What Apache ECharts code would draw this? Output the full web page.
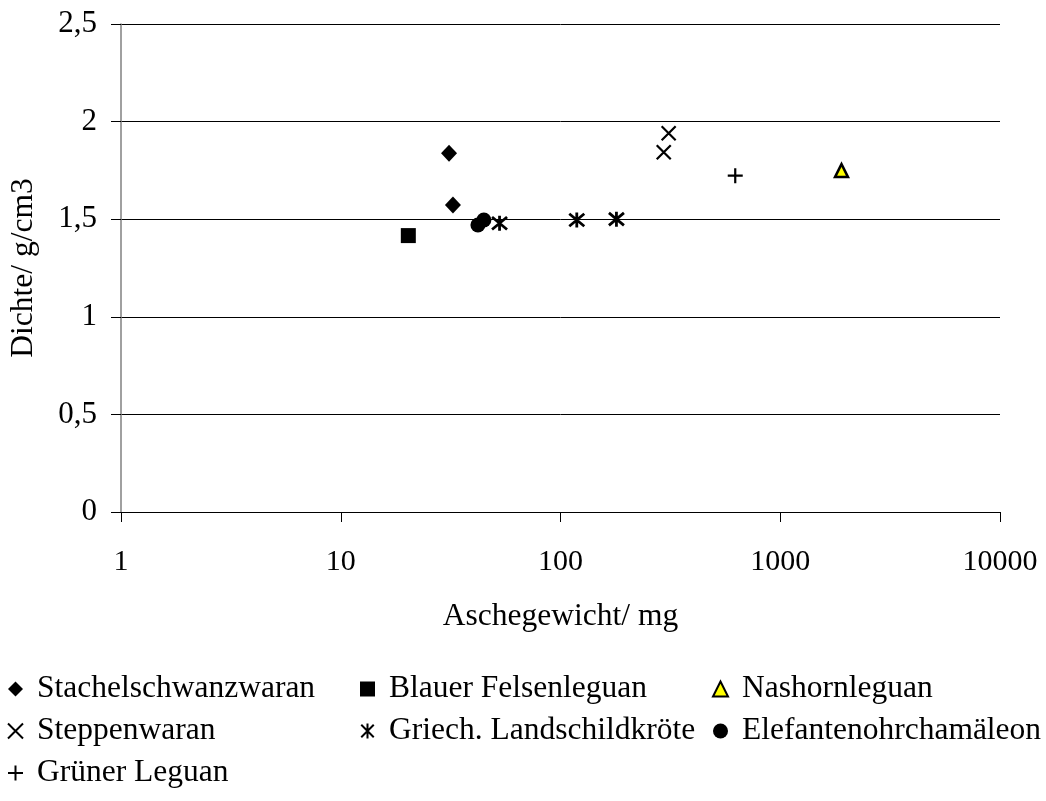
<!DOCTYPE html>
<html>
<head>
<meta charset="utf-8">
<script src="https://cdn.jsdelivr.net/npm/echarts@6/dist/echarts.min.js"></script>
<style>
  html, body { margin: 0; padding: 0; background: #fff; }
  #chart { width: 1046px; height: 801px; }
</style>
</head>
<body>
<div id="chart"></div>
<script>
// Species and their measurements: [ash weight in mg, density in g/cm3]
const speciesNames = [
  'Stachelschwanzwaran', 'Blauer Felsenleguan', 'Nashornleguan',
  'Steppenwaran', 'Griech. Landschildkröte', 'Elefantenohrchamäleon',
  'Grüner Leguan'
];
const stachelschwanzwaran = [[31.1, 1.838], [32.4, 1.573]];
const blauerFelsenleguan = [[20.3, 1.416]];
const nashornleguan = [[1900, 1.749]];
const steppenwaran = [[310.6, 1.940], [295, 1.843]];
const griechLandschildkroete = [[52.8, 1.479], [118.6, 1.496], [179.7, 1.500]];
const elefantenohrchamaeleon = [[42.1, 1.470], [44.8, 1.496]];
const gruenerLeguan = [[624, 1.723]];

const xTicks = [1, 10, 100, 1000, 10000];
const yTicks = [0, 0.5, 1, 1.5, 2, 2.5];

const FONT = '"Liberation Serif", "DejaVu Serif", serif';

// Stroked marker outlines
const crossPath = 'path://M0,0L10,10M10,0L0,10';
const plusPath = 'path://M5,0L5,10M0,5L10,5';
const starPath = 'path://M0,0L10,10M10,0L0,10M5,-1L5,11';

function strokeSeries(name, data, symbol, size, width) {
  return {
    name, type: 'scatter', data, symbol, symbolSize: size,
    itemStyle: { color: 'rgba(0,0,0,0)', borderColor: '#000', borderWidth: width, opacity: 1 }
  };
}

function solidSeries(name, data, symbol, size) {
  return {
    name, type: 'scatter', data, symbol, symbolSize: size,
    itemStyle: { color: '#000', opacity: 1 }
  };
}

const series = [
  solidSeries(speciesNames[0], stachelschwanzwaran, 'diamond', [16, 17]),
  solidSeries(speciesNames[1], blauerFelsenleguan, 'rect', 15),
  { name: speciesNames[2], type: 'scatter', data: nashornleguan, symbol: 'triangle', symbolSize: 13,
    itemStyle: { color: '#ffff00', borderColor: '#000', borderWidth: 2.5, opacity: 1 } },
  strokeSeries(speciesNames[3], steppenwaran, crossPath, 14, 2.2),
  strokeSeries(speciesNames[4], griechLandschildkroete, starPath, [15, 15], 2.8),
  solidSeries(speciesNames[5], elefantenohrchamaeleon, 'circle', 15),
  strokeSeries(speciesNames[6], gruenerLeguan, plusPath, 15, 2.2)
];

const legendText = { fontFamily: FONT, fontSize: 31.5, lineHeight: 32, color: '#000', padding: [0, 0, 0, 9] };
function legendCol(names, left) {
  return {
    data: names, left, top: 673, orient: 'vertical', itemGap: 10,
    itemWidth: 15, itemHeight: 15, textStyle: legendText, padding: 0, selectedMode: false
  };
}

const option = {
  animation: false,
  backgroundColor: '#fff',
  grid: { left: 120, right: 46, top: 24, bottom: 289 },
  xAxis: {
    type: 'log', logBase: 10, min: xTicks[0], max: xTicks[xTicks.length - 1],
    name: 'Aschegewicht/ mg', nameLocation: 'middle', nameGap: 89,
    nameTextStyle: { fontFamily: FONT, fontSize: 31.5, color: '#000' },
    axisLine: { lineStyle: { color: '#000', width: 1 } },
    axisTick: { show: true, length: 10, lineStyle: { color: '#000' } },
    minorTick: { show: false },
    axisLabel: { fontFamily: FONT, fontSize: 30, color: '#000', margin: 35,
      formatter: v => String(Math.round(v)) },
    splitLine: { show: false }
  },
  yAxis: {
    type: 'value', min: yTicks[0], max: yTicks[yTicks.length - 1], interval: 0.5,
    name: 'Dichte/ g/cm3', nameLocation: 'middle', nameGap: 81,
    nameTextStyle: { fontFamily: FONT, fontSize: 31.5, color: '#000' },
    axisLine: { show: true, lineStyle: { color: '#808080', width: 1.5 } },
    axisTick: { show: true, length: 10, lineStyle: { color: '#000' } },
    axisLabel: { fontFamily: FONT, fontSize: 31, color: '#000', margin: 24,
      formatter: v => String(v).replace('.', ',') },
    splitLine: { show: true, lineStyle: { color: '#000', width: 1 } }
  },
  legend: [
    legendCol([speciesNames[0], speciesNames[3], speciesNames[6]], 7),
    legendCol([speciesNames[1], speciesNames[4]], 360),
    legendCol([speciesNames[2], speciesNames[5]], 712)
  ],
  series
};

const chart = echarts.init(document.getElementById('chart'), null, { renderer: 'canvas' });
chart.setOption(option);
</script>
</body>
</html>
